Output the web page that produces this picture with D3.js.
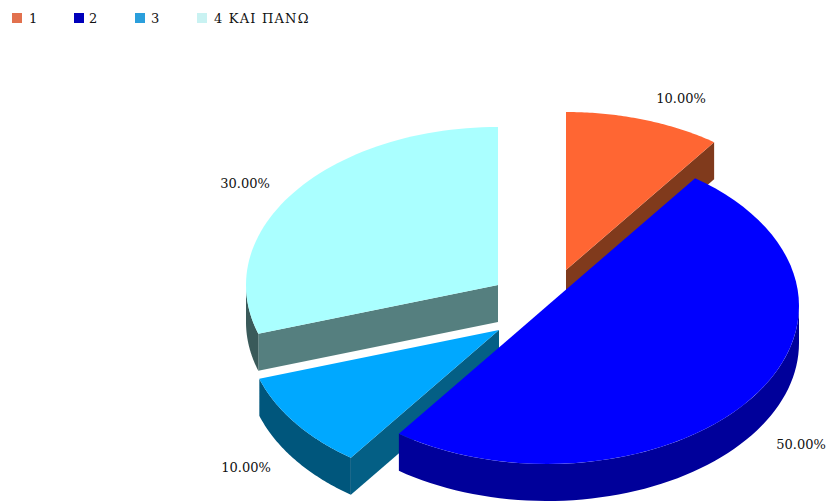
<!DOCTYPE html>
<html>
<head>
<meta charset="utf-8">
<script src="https://cdnjs.cloudflare.com/ajax/libs/d3/7.8.5/d3.min.js"></script>
<style>
html,body{margin:0;padding:0;background:#fff;overflow:hidden}
text{font-family:"DejaVu Serif",serif;fill:#111;}
</style>
</head>
<body>
<svg id="c" width="827" height="501"></svg>
<script>
const categories = ["1", "2", "3", "4 ΚΑΙ ΠΑΝΩ"];
const values = [10, 50, 10, 30];
const valueLabels = ["10.00%", "50.00%", "10.00%", "30.00%"];

const topColors = ["#ff6633", "#0000ff", "#00a8ff", "#aaffff"];
const wallColors = ["#803a1c", "#000090", "#045f85", "#557f7f"];
const rimColors = ["#803a1c", "#00009a", "#00567c", "#3a5a5a"];
const legendColors = ["#e2714e", "#0000bb", "#2b9fdc", "#c9f2f2"];

const centers = [[566, 270], [547, 306], [499, 330], [498, 285]];
const labelPos = [[681, 98], [801, 444], [246, 467], [245, 183]];
const legendX = [12, 74, 135, 197];
const legendTextX = [29, 89, 151, 214];
const drawOrder = [3, 0, 2, 1];

const rx = 252, ry = 158, depth = 37;
const svg = d3.select("#c");
const pie = d3.pie().value(d => d).sort(null);
const arcs = pie(values);
const px = d3.scaleLinear().domain([-1, 1]).range([-rx, rx]);
const py = d3.scaleLinear().domain([-1, 1]).range([-ry, ry]);
const pt = (c, a, dz = 0) => [c[0] + px(Math.sin(a)), c[1] - py(Math.cos(a)) + dz];
const line = d3.line();
const sample = (a0, a1) => d3.range(0, 61).map(i => a0 + (a1 - a0) * i / 60);

drawOrder.forEach(i => {
  const a = arcs[i], c = centers[i];
  const g = svg.append("g");
  const a0 = a.startAngle, a1 = a.endAngle;
  const addWall = ang => g.append("path")
    .attr("d", line([[c[0], c[1]], pt(c, ang), pt(c, ang, depth), [c[0], c[1] + depth]]) + "Z")
    .attr("fill", wallColors[i]);
  if (i === 0) addWall(a1);
  if (i === 2) addWall(a0);
  if (i === 3) addWall(a0);
  const r0 = Math.max(a0, Math.PI / 2), r1 = Math.min(a1, 3 * Math.PI / 2);
  if (r1 > r0) {
    const s = sample(r0, r1);
    const pts = s.map(t => pt(c, t)).concat(s.slice().reverse().map(t => pt(c, t, depth)));
    g.append("path").attr("d", line(pts) + "Z").attr("fill", rimColors[i]);
  }
  const top = [[c[0], c[1]]].concat(sample(a0, a1).map(t => pt(c, t)));
  g.append("path").attr("d", line(top) + "Z").attr("fill", topColors[i]);
});

svg.selectAll("text.val").data(valueLabels).join("text").attr("class", "val")
  .attr("x", (d, i) => labelPos[i][0]).attr("y", (d, i) => labelPos[i][1] + 5)
  .attr("text-anchor", "middle").attr("font-size", 13).text(d => d);

svg.selectAll("rect.lg").data(categories).join("rect").attr("class", "lg")
  .attr("x", (d, i) => legendX[i]).attr("y", 13).attr("width", 10).attr("height", 10)
  .attr("fill", (d, i) => legendColors[i]);
svg.selectAll("text.lgt").data(categories).join("text").attr("class", "lgt")
  .attr("x", (d, i) => legendTextX[i]).attr("y", 23)
  .attr("font-size", 13).attr("letter-spacing", 1.2).text(d => d);
</script>
</body>
</html>
